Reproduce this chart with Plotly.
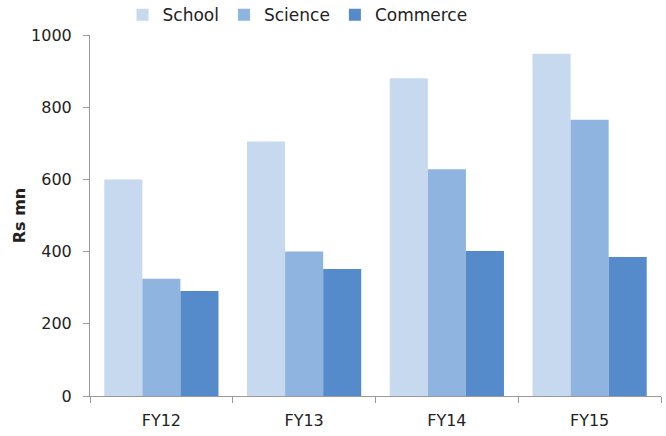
import plotly.graph_objects as go

categories = ["FY12", "FY13", "FY14", "FY15"]
school = [600, 705, 880, 948]
science = [325, 400, 628, 765]
commerce = [291, 352, 402, 385]

colors = {"School": "#C6D9EF", "Science": "#8FB4E0", "Commerce": "#568BCB"}

fig = go.Figure()
for name, vals in [("School", school), ("Science", science), ("Commerce", commerce)]:
    fig.add_trace(go.Bar(x=categories, y=vals, name=name,
                         marker=dict(color=colors[name], line=dict(width=0))))

font = "DejaVu Sans"
fig.update_layout(
    width=666, height=436,
    margin=dict(l=90, r=5, t=35, b=40, autoexpand=False),
    barmode="group", bargap=0.2, bargroupgap=0,
    plot_bgcolor="white", paper_bgcolor="white",
    font=dict(family=font, size=16, color="#222"),
    legend=dict(orientation="h", xref="paper", yref="paper",
                x=0.057, y=1.055, xanchor="left", yanchor="middle",
                font=dict(size=17), itemwidth=30, traceorder="normal"),
    xaxis=dict(showline=True, linecolor="#999", linewidth=1,
               ticks="outside", tickson="boundaries", ticklen=6, tickcolor="#999",
               showgrid=False, tickfont=dict(size=16), ticklabelstandoff=10),
    yaxis=dict(range=[0, 1000], dtick=200, showline=True, linecolor="#999", linewidth=1,
               ticks="outside", ticklen=6, tickcolor="#999", showgrid=False,
               zeroline=False, ticklabelstandoff=8, tickfont=dict(size=16),
               title=dict(text="<b>Rs mn</b>", font=dict(size=16), standoff=1)),
)
fig.write_html("out.html")
